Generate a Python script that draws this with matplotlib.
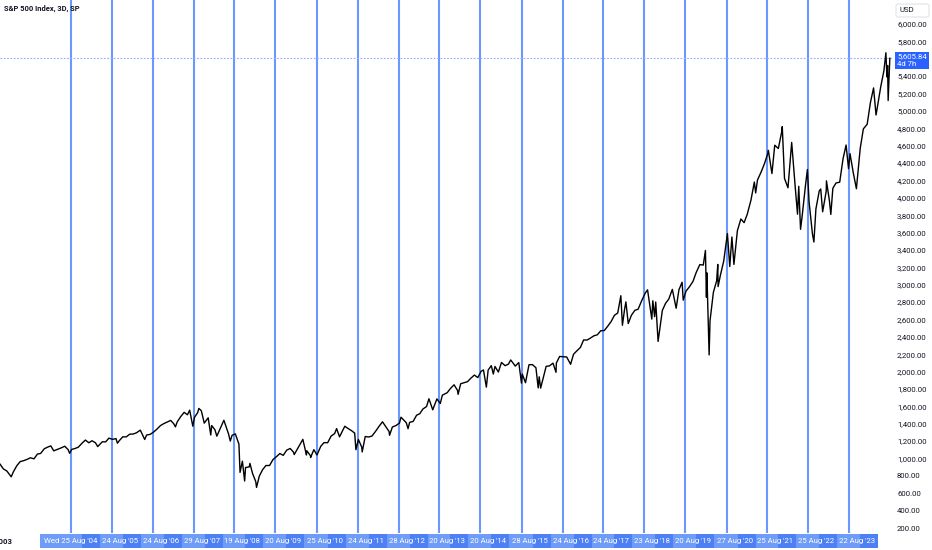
import matplotlib
matplotlib.use("Agg")
import matplotlib.pyplot as plt
import matplotlib.dates as mdates
from matplotlib.patches import Rectangle, FancyBboxPatch
from matplotlib.transforms import IdentityTransform, blended_transform_factory
import pandas as pd

plt.rcParams['font.family'] = ['Roboto', 'DejaVu Sans']

# S&P 500, 3D bars (closes plus bar extremes)
dates = [
    '2002-12-02', '2002-12-31', '2003-01-31', '2003-03-11', '2003-03-31', '2003-04-30', '2003-05-30',
    '2003-06-30', '2003-07-31', '2003-08-29', '2003-09-30', '2003-10-31', '2003-11-28', '2003-12-31',
    '2004-01-30', '2004-02-27', '2004-03-24', '2004-04-30', '2004-05-28', '2004-06-30', '2004-07-30',
    '2004-08-13', '2004-08-31', '2004-09-30', '2004-10-29', '2004-11-30', '2004-12-31',
    '2005-01-31', '2005-02-28', '2005-03-31', '2005-04-20', '2005-05-31', '2005-06-30', '2005-07-29',
    '2005-08-31', '2005-09-30', '2005-10-13', '2005-10-31', '2005-11-30', '2005-12-30',
    '2006-01-31', '2006-02-28', '2006-03-31', '2006-05-05', '2006-06-13', '2006-06-30', '2006-07-31',
    '2006-08-31', '2006-09-29', '2006-10-31', '2006-11-30', '2006-12-29',
    '2007-01-31', '2007-02-27', '2007-03-14', '2007-03-30', '2007-04-30', '2007-05-31', '2007-06-29',
    '2007-07-19', '2007-08-16', '2007-08-31', '2007-09-28', '2007-10-09', '2007-10-31', '2007-11-26',
    '2007-12-31',
    '2008-01-23', '2008-01-31', '2008-02-29', '2008-03-17', '2008-04-30', '2008-05-19', '2008-06-30',
    '2008-07-15', '2008-07-31', '2008-08-29', '2008-09-30', '2008-10-10', '2008-10-31', '2008-11-20',
    '2008-11-28', '2008-12-31',
    '2009-01-06', '2009-01-30', '2009-02-27', '2009-03-06', '2009-03-31', '2009-04-30', '2009-05-29',
    '2009-06-30', '2009-07-31', '2009-08-31', '2009-09-30', '2009-10-30', '2009-11-30', '2009-12-31',
    '2010-01-29', '2010-02-05', '2010-03-31', '2010-04-23', '2010-05-25', '2010-05-28', '2010-06-30',
    '2010-07-01', '2010-07-30', '2010-08-27', '2010-09-30', '2010-10-29', '2010-11-30', '2010-12-31',
    '2011-01-31', '2011-02-18', '2011-03-16', '2011-04-29', '2011-05-02', '2011-05-31', '2011-06-30',
    '2011-07-29', '2011-08-09', '2011-08-31', '2011-09-30', '2011-10-04', '2011-10-31', '2011-11-30',
    '2011-12-30',
    '2012-01-31', '2012-02-29', '2012-04-02', '2012-05-31', '2012-06-04', '2012-06-29', '2012-07-31',
    '2012-08-31', '2012-09-14', '2012-10-31', '2012-11-16', '2012-11-30', '2012-12-31',
    '2013-01-31', '2013-02-28', '2013-03-28', '2013-04-30', '2013-05-21', '2013-06-24', '2013-07-31',
    '2013-08-30', '2013-09-18', '2013-10-31', '2013-11-29', '2013-12-31',
    '2014-01-31', '2014-02-05', '2014-02-28', '2014-03-31', '2014-04-30', '2014-05-30', '2014-06-30',
    '2014-07-31', '2014-08-29', '2014-09-19', '2014-10-15', '2014-10-31', '2014-11-28', '2014-12-16',
    '2014-12-31',
    '2015-01-30', '2015-02-27', '2015-03-31', '2015-04-30', '2015-05-20', '2015-06-30', '2015-07-31',
    '2015-08-24', '2015-08-31', '2015-09-29', '2015-10-30', '2015-11-30', '2015-12-31',
    '2016-01-20', '2016-01-29', '2016-02-11', '2016-03-31', '2016-04-29', '2016-05-31', '2016-06-27',
    '2016-06-30', '2016-07-29', '2016-08-31', '2016-09-30', '2016-11-04', '2016-11-30', '2016-12-30',
    '2017-01-31', '2017-02-28', '2017-03-31', '2017-04-28', '2017-05-31', '2017-06-30', '2017-07-31',
    '2017-08-31', '2017-09-29', '2017-10-31', '2017-11-30', '2017-12-29',
    '2018-01-26', '2018-02-09', '2018-02-28', '2018-03-12', '2018-04-02', '2018-04-30', '2018-05-31',
    '2018-06-29', '2018-07-31', '2018-08-31', '2018-09-21', '2018-10-29', '2018-11-07', '2018-11-23',
    '2018-12-03', '2018-12-24',
    '2019-01-31', '2019-02-28', '2019-03-29', '2019-04-30', '2019-05-31', '2019-06-03', '2019-06-28',
    '2019-07-26', '2019-08-05', '2019-08-30', '2019-09-30', '2019-10-31', '2019-11-29', '2019-12-31',
    '2020-01-31', '2020-02-19', '2020-02-28', '2020-03-03', '2020-03-23', '2020-03-31', '2020-04-30',
    '2020-05-29', '2020-06-08', '2020-06-11', '2020-06-30', '2020-07-31', '2020-09-02', '2020-09-23',
    '2020-10-12', '2020-10-30', '2020-11-30', '2020-12-31',
    '2021-01-29', '2021-02-26', '2021-03-31', '2021-04-30', '2021-05-12', '2021-05-28', '2021-06-30',
    '2021-07-30', '2021-08-31', '2021-09-02', '2021-10-04', '2021-10-29', '2021-11-30', '2021-12-31',
    '2022-01-04', '2022-01-24', '2022-02-24', '2022-03-29', '2022-04-29', '2022-05-20', '2022-05-31',
    '2022-06-16', '2022-06-30', '2022-07-29', '2022-08-16', '2022-08-31', '2022-09-30', '2022-10-13',
    '2022-10-31', '2022-11-30', '2022-12-13', '2022-12-30',
    '2023-01-31', '2023-02-02', '2023-02-28', '2023-03-13', '2023-03-31', '2023-04-28', '2023-05-31',
    '2023-06-30', '2023-07-27', '2023-08-18', '2023-08-31', '2023-09-29', '2023-10-27', '2023-11-30',
    '2023-12-28',
    '2024-01-31', '2024-02-29', '2024-03-28', '2024-04-19', '2024-04-30', '2024-05-31', '2024-06-28',
    '2024-07-16', '2024-07-25', '2024-07-31', '2024-08-05', '2024-08-20',
]
prices = [
    934, 880, 856, 789, 848, 917, 964,
    975, 990, 1008, 996, 1051, 1058, 1112,
    1131, 1145, 1088, 1107, 1121, 1141, 1102,
    1060, 1104, 1115, 1130, 1174, 1212,
    1181, 1204, 1181, 1137, 1192, 1191, 1234,
    1220, 1229, 1176, 1207, 1250, 1248,
    1280, 1281, 1295, 1326, 1219, 1270, 1277,
    1304, 1336, 1378, 1401, 1418,
    1438, 1400, 1364, 1421, 1482, 1531, 1503,
    1556, 1371, 1474, 1527, 1576, 1549, 1407,
    1468,
    1270, 1379, 1331, 1257, 1386, 1440, 1280,
    1200, 1267, 1283, 1166, 840, 969, 741,
    896, 903,
    944, 826, 735, 667, 798, 873, 919,
    919, 988, 1021, 1057, 1036, 1096, 1115,
    1074, 1045, 1169, 1220, 1040, 1089, 1031,
    1011, 1102, 1040, 1141, 1183, 1181, 1258,
    1286, 1344, 1249, 1364, 1371, 1345, 1321,
    1292, 1101, 1219, 1131, 1075, 1253, 1247,
    1258,
    1312, 1366, 1422, 1310, 1267, 1362, 1379,
    1407, 1475, 1412, 1343, 1416, 1426,
    1498, 1515, 1569, 1598, 1687, 1560, 1686,
    1633, 1729, 1757, 1806, 1848,
    1783, 1738, 1860, 1872, 1884, 1924, 1960,
    1931, 2003, 2019, 1821, 2018, 2068, 1972,
    2059,
    1995, 2105, 2068, 2086, 2134, 2063, 2104,
    1867, 1972, 1872, 2079, 2080, 2044,
    1812, 1940, 1810, 2060, 2065, 2097, 1992,
    2099, 2174, 2171, 2168, 2084, 2199, 2239,
    2279, 2364, 2363, 2384, 2412, 2423, 2470,
    2472, 2519, 2575, 2648, 2674,
    2873, 2533, 2714, 2802, 2553, 2648, 2705,
    2718, 2816, 2902, 2941, 2604, 2815, 2632,
    2800, 2347,
    2704, 2784, 2834, 2946, 2752, 2729, 2942,
    3028, 2822, 2926, 2977, 3038, 3141, 3231,
    3226, 3394, 2855, 3136, 2192, 2585, 2912,
    3044, 3233, 2978, 3100, 3271, 3588, 3209,
    3549, 3233, 3622, 3756,
    3714, 3811, 3973, 4181, 4056, 4204, 4298,
    4395, 4523, 4546, 4279, 4605, 4567, 4766,
    4819, 4223, 4115, 4637, 4132, 3811, 4132,
    3637, 3785, 4130, 4325, 3955, 3585, 3491,
    3872, 4080, 4101, 3839,
    4077, 4195, 3970, 3808, 4109, 4170, 4180,
    4450, 4607, 4335, 4508, 4288, 4104, 4568,
    4793,
    4846, 5096, 5264, 4953, 5036, 5278, 5460,
    5669, 5391, 5522, 5119, 5606,
]
last_price = 5605.84
countdown = '4d 7h'

# yearly vertical lines and their time-axis labels
line_dates = ['2004-08-25', '2005-08-24', '2006-08-24', '2007-08-29', '2008-08-19', '2009-08-20',
              '2010-08-25', '2011-08-24', '2012-08-28', '2013-08-20', '2014-08-20', '2015-08-28',
              '2016-08-24', '2017-08-24', '2018-08-23', '2019-08-20', '2020-08-27', '2021-08-25',
              '2022-08-25', '2023-08-22']
line_labels = ["Wed 25 Aug '04", "24 Aug '05", "24 Aug '06", "29 Aug '07", "19 Aug '08", "20 Aug '09",
               "25 Aug '10", "24 Aug '11", "28 Aug '12", "20 Aug '13", "20 Aug '14", "28 Aug '15",
               "24 Aug '16", "24 Aug '17", "23 Aug '18", "20 Aug '19", "27 Aug '20", "25 Aug '21",
               "25 Aug '22", "22 Aug '23"]
price_ticks = list(range(200, 6001, 200))

W, H = 932, 550
fig = plt.figure(figsize=(W / 100, H / 100), dpi=100)
ax = fig.add_axes([0, 17 / H, 892 / W, 533 / H])

ax.plot(pd.to_datetime(dates), prices, color='black', lw=1.0, zorder=3)

lines = pd.to_datetime(line_dates)
for d in lines:
    ax.axvline(d, color='#6a98ff', lw=1.5, zorder=1)
ax.axhline(last_price, color='#8eaeff', lw=0.8, ls=(0, (1.5, 1.5)), zorder=1)

# x range: first line at 71px, last at 849px, axes 892px wide
n0 = mdates.date2num(lines[0])
n1 = mdates.date2num(lines[-1])
ppd = (849 - 71) / (n1 - n0)
ax.set_xlim(n0 - 71 / ppd, n0 + (892 - 71) / ppd)
ax.set_ylim(142.5, 6276)

for s in ax.spines.values():
    s.set_visible(False)
ax.set_xticks([])
ax.yaxis.tick_right()
ax.set_yticks(price_ticks)
ax.set_yticklabels([f'{v:,.2f}' for v in price_ticks])
ax.tick_params(axis='y', length=0, pad=3.6, labelsize=5.6, labelcolor='#131722')
# the price tag covers the tick label next to it
for v, lab in zip(price_ticks, ax.get_yticklabels()):
    if abs(v - last_price) < 100:
        lab.set_visible(False)

# last price tag
ax.annotate(f'{last_price:,.2f}\n{countdown}', xy=(1, last_price),
            xycoords=blended_transform_factory(ax.transAxes, ax.transData),
            xytext=(5, -2), textcoords='offset pixels', ha='left', va='center',
            fontsize=5.6, color='white', linespacing=1.3, annotation_clip=False,
            bbox=dict(boxstyle='square,pad=0.25', fc='#2962ff', ec='none'), zorder=5)

ident = IdentityTransform()
# USD box
fig.add_artist(FancyBboxPatch((896, H - 17), 33, 13, boxstyle='round,pad=0,rounding_size=2',
                              fc='white', ec='#e0e3eb', lw=0.8, transform=ident))
fig.text(900, H - 10.5, 'USD', transform=ident, fontsize=5.6, color='#131722', va='center')

# title
fig.text(4, H - 9, 'S&P 500 Index, 3D, SP', transform=ident, fontsize=5.4,
         fontweight='bold', color='#131722', va='center')

# highlighted time axis strip
fig.add_artist(Rectangle((40, 2), 838, 14, fc='#6f9cf7', ec='none', transform=ident))
xs = [ax.transData.transform((mdates.date2num(d), 0))[0] for d in lines]
for i, (xp, lab) in enumerate(zip(xs, line_labels)):
    fig.add_artist(Rectangle((xp + 11, 2), 18, 14, fc='#4d80f5', ec='none', transform=ident))
    cx = xp if i == 0 else xp + 8
    fig.text(cx, 9, lab, transform=ident, fontsize=5.6, color='white', ha='center', va='center')
# left label is partly off the canvas, as in the original
fig.text(13, 9, '2003', transform=ident, fontsize=5.6, color='#131722', fontweight='bold',
         ha='right', va='center')

fig.savefig('out.png', dpi=100)
